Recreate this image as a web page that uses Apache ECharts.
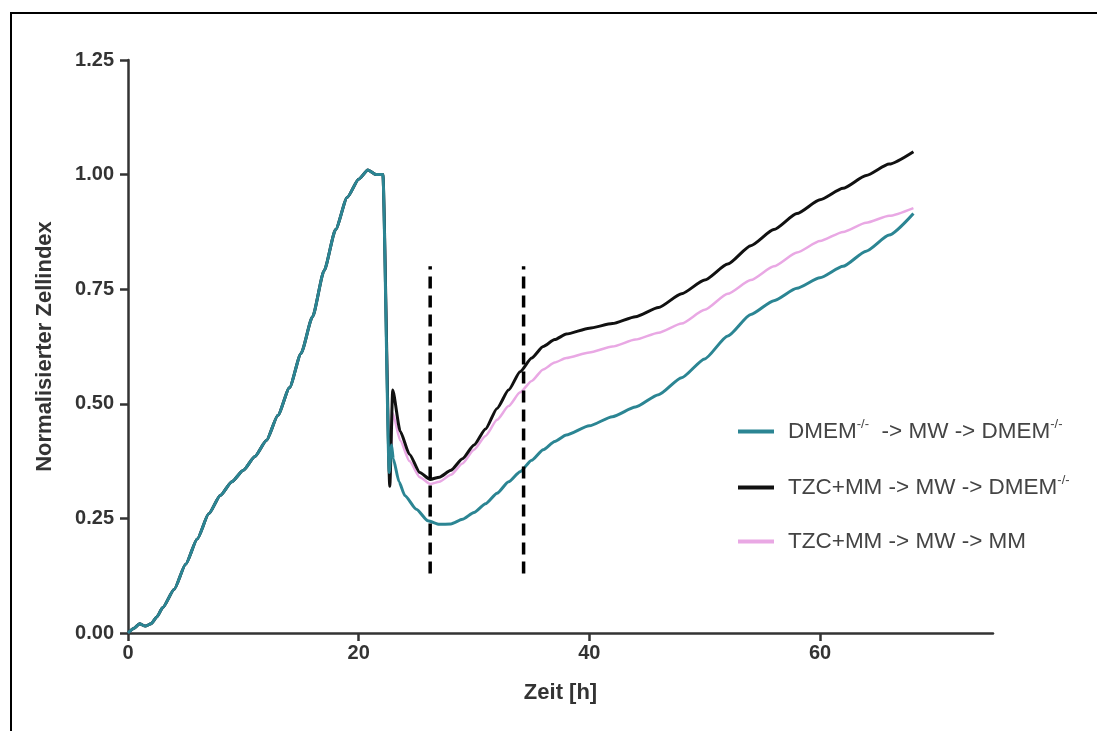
<!DOCTYPE html>
<html>
<head>
<meta charset="utf-8">
<script src="https://cdn.jsdelivr.net/npm/echarts@6/dist/echarts.min.js"></script>
<style>
html,body{margin:0;padding:0;background:#fff;}
#c{width:1097px;height:731px;}
</style>
</head>
<body>
<div id="c"></div>
<script>
// ---- data ----
const seriesNames = ['DMEM -> MW -> DMEM', 'TZC+MM -> MW -> DMEM', 'TZC+MM -> MW -> MM'];
const xTicks = [0, 20, 40, 60];
const yTicks = [0, 0.25, 0.5, 0.75, 1.0, 1.25];

// shared growth phase (all three curves overlap)
const commonT = [0, 0.5, 1, 1.5, 2, 2.5, 3, 4, 5, 6, 7, 8, 9, 10, 11, 12, 13, 14, 15, 16, 17, 18, 19, 20, 20.8, 21.5, 22.1];
const commonV = [0, 0.01, 0.02, 0.015, 0.02, 0.035, 0.055, 0.095, 0.15, 0.205, 0.26, 0.3, 0.33, 0.355, 0.385, 0.42, 0.475, 0.535, 0.61, 0.69, 0.79, 0.88, 0.95, 0.99, 1.01, 1.0, 1.0];

// after medium change
const tealT = [22.65, 22.85, 23.0, 23.5, 24, 25, 26, 27, 28, 29, 30, 31, 32, 33, 34, 35, 36, 37, 38, 40, 42, 44, 46, 48, 50, 52, 54, 56, 58, 60, 62, 64, 66, 68.1];
const tealV = [0.35, 0.41, 0.38, 0.33, 0.30, 0.27, 0.245, 0.237, 0.238, 0.248, 0.263, 0.282, 0.305, 0.33, 0.352, 0.377, 0.40, 0.418, 0.432, 0.452, 0.472, 0.493, 0.52, 0.557, 0.598, 0.648, 0.695, 0.725, 0.752, 0.775, 0.80, 0.833, 0.868, 0.915];

const blackT = [22.7, 22.95, 23.6, 24.4, 25.3, 26.2, 27, 28, 29, 30, 31, 32, 33, 34, 35, 36, 37, 38, 40, 42, 44, 46, 48, 50, 52, 54, 56, 58, 60, 62, 64, 66, 68.1];
const blackV = [0.32, 0.53, 0.44, 0.39, 0.35, 0.335, 0.34, 0.355, 0.38, 0.41, 0.445, 0.49, 0.53, 0.57, 0.60, 0.625, 0.64, 0.652, 0.665, 0.675, 0.69, 0.71, 0.74, 0.77, 0.805, 0.845, 0.88, 0.915, 0.945, 0.97, 0.998, 1.023, 1.05];

const pinkT = [22.7, 22.95, 23.6, 24.4, 25.3, 26.2, 27, 28, 29, 30, 31, 32, 33, 34, 35, 36, 37, 38, 40, 42, 44, 46, 48, 50, 52, 54, 56, 58, 60, 62, 64, 66, 68.1];
const pinkV = [0.33, 0.48, 0.42, 0.375, 0.34, 0.325, 0.33, 0.345, 0.37, 0.40, 0.43, 0.465, 0.495, 0.525, 0.55, 0.575, 0.59, 0.60, 0.612, 0.625, 0.64, 0.655, 0.675, 0.705, 0.74, 0.77, 0.80, 0.83, 0.855, 0.875, 0.895, 0.91, 0.927];

// dashed marker lines
const dashX = [26.2, 34.3];
const dashY = [0.13, 0.80];

// ---- build ----
function zip(t, v) { return t.map((x, i) => [x, v[i]]); }
const tealData = zip(commonT.concat(tealT), commonV.concat(tealV));
const blackData = zip(commonT.concat(blackT), commonV.concat(blackV));
const pinkData = zip(commonT.concat(pinkT), commonV.concat(pinkV));

const colors = { teal: '#2b8593', black: '#111111', pink: '#e9a8e4' };

function lineSeries(name, data, color, width, z) {
  return {
    name: name, type: 'line', data: data, showSymbol: false, symbol: 'none',
    smooth: 0.2, smoothMonotone: 'x', z: z,
    lineStyle: { color: color, width: width }, itemStyle: { color: color },
    animation: false
  };
}

const dashSeries = dashX.map((x, i) => ({
  name: 'dash' + i, type: 'line', symbol: 'none', z: 5,
  data: [[x, dashY[0]], [x, dashY[1]]],
  lineStyle: { color: '#000', width: 3.5, type: [12, 7] },
  animation: false, silent: true
}));

const axisColor = '#333';
const font = 'Liberation Sans, Arial, sans-serif';
const chart = echarts.init(document.getElementById('c'), null, { renderer: 'canvas' });

const legendFormatter = function (name) {
  if (name === seriesNames[0]) return '{t|DMEM}{s|-/-}{t|  -> MW -> DMEM}{s|-/-}';
  if (name === seriesNames[1]) return '{t|TZC+MM -> MW -> DMEM}{s|-/-}';
  return '{t|TZC+MM -> MW -> MM}';
};

chart.setOption({
  backgroundColor: '#fff',
  animation: false,
  grid: { left: 128, right: 104, top: 60, bottom: 98 },
  graphic: [{
    type: 'rect', shape: { x: 11, y: 13, width: 1300, height: 900 },
    style: { fill: 'none', stroke: '#000', lineWidth: 2 }, silent: true
  }],
  legend: {
    orient: 'vertical', left: 733, top: 413,
    data: seriesNames,
    icon: 'rect', itemWidth: 36, itemHeight: 4, itemGap: 31,
    formatter: legendFormatter,
    textStyle: {
      padding: [0, 0, 0, 9],
      rich: {
        t: { fontFamily: font, fontSize: 22.5, color: '#444', lineHeight: 27 },
        s: { fontFamily: font, fontSize: 13, color: '#444', verticalAlign: 'top', lineHeight: 27 }
      }
    }
  },
  xAxis: {
    type: 'value', min: 0, max: 75, interval: 20,
    name: 'Zeit [h]', nameLocation: 'middle', nameGap: 49,
    nameTextStyle: { fontFamily: font, fontSize: 22, fontWeight: 'bold', color: axisColor },
    axisLine: { show: true, onZero: false, lineStyle: { color: axisColor, width: 2.5 } },
    axisTick: { show: true, length: 8, lineStyle: { color: axisColor, width: 2.5 }, customValues: xTicks },
    axisLabel: { margin: 10, fontFamily: font, fontSize: 20, fontWeight: 'bold', color: axisColor, customValues: xTicks },
    splitLine: { show: false }
  },
  yAxis: {
    type: 'value', min: 0, max: 1.25, interval: 0.25,
    name: 'Normalisierter Zellindex', nameLocation: 'middle', nameGap: 72,
    nameTextStyle: { fontFamily: font, fontSize: 22, fontWeight: 'bold', color: axisColor },
    axisLine: { show: true, onZero: false, lineStyle: { color: axisColor, width: 2.5 } },
    axisTick: { show: true, length: 8, lineStyle: { color: axisColor, width: 2.5 }, customValues: yTicks },
    axisLabel: { margin: 14, fontFamily: font, fontSize: 20, fontWeight: 'bold', color: axisColor,
      customValues: yTicks, formatter: v => v.toFixed(2) },
    splitLine: { show: false }
  },
  series: [
    lineSeries(seriesNames[2], pinkData, colors.pink, 2.5, 2),
    lineSeries(seriesNames[1], blackData, colors.black, 3, 3),
    lineSeries(seriesNames[0], tealData, colors.teal, 3, 4)
  ].concat(dashSeries)
});
</script>
</body>
</html>
